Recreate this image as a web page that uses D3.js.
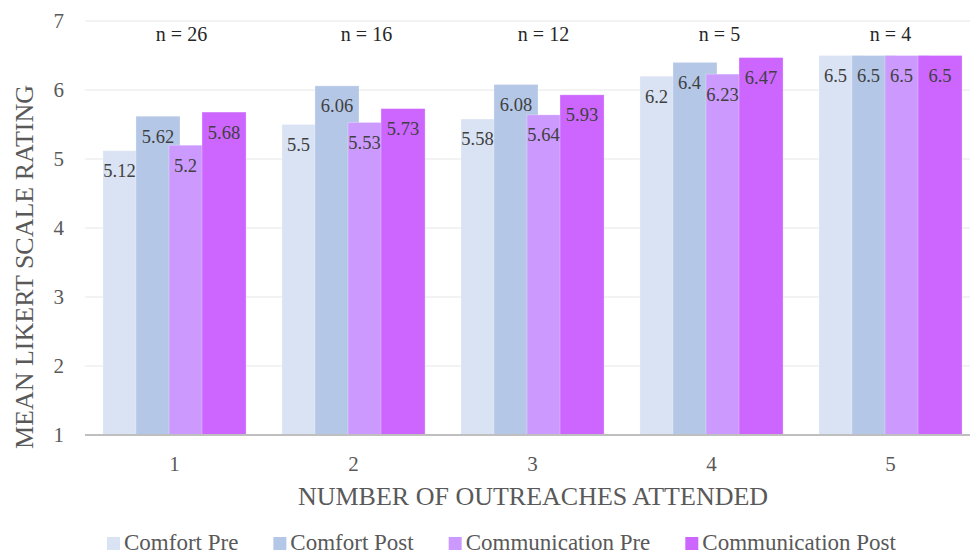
<!DOCTYPE html>
<html>
<head>
<meta charset="utf-8">
<script src="https://cdn.jsdelivr.net/npm/d3@7"></script>
<style>
  html, body { margin: 0; padding: 0; background: #ffffff; }
  svg { display: block; }
</style>
</head>
<body>
<svg id="chart" width="970" height="554"></svg>
<script>
// Outreach attendance groups and sample sizes
const categories = ["1", "2", "3", "4", "5"];
const sampleSizes = ["n = 26", "n = 16", "n = 12", "n = 5", "n = 4"];

// Mean Likert ratings per series
const seriesNames = ["Comfort Pre", "Comfort Post", "Communication Pre", "Communication Post"];
const comfortPre = [5.12, 5.5, 5.58, 6.2, 6.5];
const comfortPost = [5.62, 6.06, 6.08, 6.4, 6.5];
const communicationPre = [5.2, 5.53, 5.64, 6.23, 6.5];
const communicationPost = [5.68, 5.73, 5.93, 6.47, 6.5];
const yTicks = [1, 2, 3, 4, 5, 6, 7];

const seriesValues = [comfortPre, comfortPost, communicationPre, communicationPost];
const colors = ["#dae3f3", "#b4c7e7", "#cc99ff", "#cc66ff"];

// horizontal nudges of the sample-size captions (text boxes)
const nLabelShift = [7, 13, 11, 8, 0];

const FONT = "'Liberation Serif', 'Times New Roman', 'DejaVu Serif', serif";

const svg = d3.select("#chart");
const plot = { left: 85, right: 980, top: 21, bottom: 435 };

const x = d3.scaleBand().domain(categories).range([plot.left, plot.right]).padding(0);
const y = d3.scaleLinear().domain([1, 7]).range([plot.bottom, plot.top]);

const band = x.bandwidth();
const barW = band * 0.246;          // each bar
const step = barW * 0.75;           // bars overlap by 25%
const groupW = step * (seriesNames.length - 1) + barW;
const groupOff = (band - groupW) / 2;

const g = svg.append("g");

// gridlines
g.append("g")
  .selectAll("line")
  .data(yTicks.filter(t => t > 1))
  .join("line")
  .attr("x1", plot.left).attr("x2", plot.right)
  .attr("y1", d => y(d)).attr("y2", d => y(d))
  .attr("stroke", "#e7e7e7").attr("stroke-width", 1);

// y axis tick labels
const yAxis = d3.axisLeft(y).tickValues(yTicks).tickSize(0).tickPadding(0).tickFormat(d3.format("d"));
g.append("g")
  .attr("transform", `translate(${plot.left - 21},0)`)
  .call(yAxis)
  .call(s => s.select(".domain").remove())
  .call(s => s.selectAll("text")
    .attr("font-family", FONT)
    .attr("font-size", 21).attr("fill", "#595959")
    .attr("dy", "0.33em"));

// bars
const bars = [];
categories.forEach((c, ci) => {
  seriesValues.forEach((vals, si) => {
    bars.push({ c, ci, si, v: vals[ci] });
  });
});

g.append("g")
  .selectAll("rect")
  .data(bars)
  .join("rect")
  .attr("x", d => x(d.c) + groupOff + d.si * step)
  .attr("y", d => y(d.v))
  .attr("width", barW)
  .attr("height", d => y(1) - y(d.v))
  .attr("fill", d => colors[d.si])
  .attr("stroke", "#ffffff").attr("stroke-opacity", 0.35).attr("stroke-width", 0.8);

// x axis line
g.append("line")
  .attr("x1", plot.left).attr("x2", plot.right)
  .attr("y1", y(1)).attr("y2", y(1))
  .attr("stroke", "#bfbfbf").attr("stroke-width", 2);

// x axis tick labels
const xAxis = d3.axisBottom(x).tickSize(0).tickPadding(0);
g.append("g")
  .attr("transform", `translate(0,${plot.bottom + 36})`)
  .call(xAxis)
  .call(s => s.select(".domain").remove())
  .call(s => s.selectAll("text")
    .attr("font-family", FONT)
    .attr("font-size", 21).attr("fill", "#595959")
    .attr("dy", 0));

// value labels, inside the bar top
const labelDrop = 26.5;
g.append("g")
  .selectAll("text")
  .data(bars)
  .join("text")
  .attr("x", d => {
    const left = x(d.c) + groupOff + d.si * step;
    if (d.si === seriesNames.length - 1) return left + barW / 2;
    const nextV = seriesValues[d.si + 1][d.ci];
    const baseline = y(d.v) + labelDrop;
    // label sits over the full bar when it clears the next bar's top
    return baseline < y(nextV) ? left + barW / 2 : left + step / 2;
  })
  .attr("y", d => y(d.v) + labelDrop)
  .attr("text-anchor", "middle")
  .attr("font-family", FONT)
  .attr("font-size", 18.5)
  .attr("fill", "#404040")
  .text(d => d3.format("")(d.v));

// sample sizes above each group
g.append("g")
  .selectAll("text")
  .data(categories)
  .join("text")
  .attr("x", (d, i) => x(d) + band / 2 + nLabelShift[i])
  .attr("y", 41)
  .attr("text-anchor", "middle")
  .attr("font-family", FONT)
  .attr("font-size", 20)
  .attr("fill", "#262626")
  .text((d, i) => sampleSizes[i]);

// axis titles
svg.append("text")
  .attr("transform", `translate(33,267) rotate(-90)`)
  .attr("text-anchor", "middle")
  .attr("font-family", FONT)
  .attr("font-size", 26)
  .attr("fill", "#595959")
  .text("MEAN LIKERT SCALE RATING");

svg.append("text")
  .attr("x", 533)
  .attr("y", 505)
  .attr("text-anchor", "middle")
  .attr("font-family", FONT)
  .attr("font-size", 26)
  .attr("fill", "#595959")
  .text("NUMBER OF OUTREACHES ATTENDED");

// legend
const legend = svg.append("g");
let lx = 107;
seriesNames.forEach((name, i) => {
  legend.append("rect")
    .attr("x", lx).attr("y", 537)
    .attr("width", 13).attr("height", 13)
    .attr("fill", colors[i]);
  const t = legend.append("text")
    .attr("x", lx + 17).attr("y", 549.5)
    .attr("font-family", FONT)
    .attr("font-size", 23)
    .attr("fill", "#595959")
    .text(name);
  lx += 17 + t.node().getComputedTextLength() + 35;
});
</script>
</body>
</html>
